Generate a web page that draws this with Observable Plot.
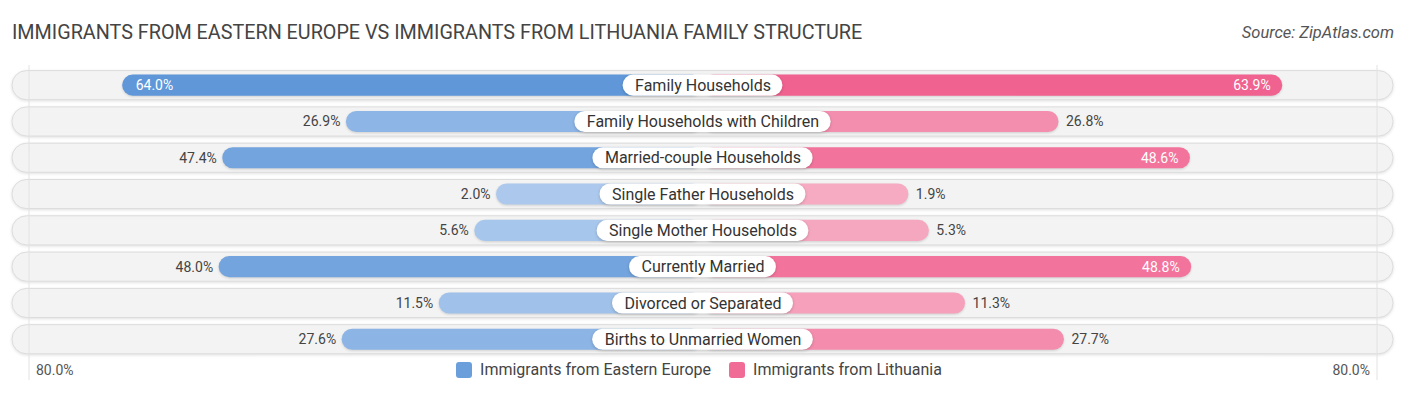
<!DOCTYPE html>
<html>
<head>
<meta charset="utf-8">
<script src="https://cdn.jsdelivr.net/npm/d3@7"></script>
<script src="https://cdn.jsdelivr.net/npm/@observablehq/plot@0.6"></script>
<style>
  html, body { margin: 0; padding: 0; background: #fff; }
  body { width: 1406px; height: 395px; position: relative; overflow: hidden; font-family: Roboto, "Noto Sans", sans-serif; }
  #title { position: absolute; left: 12px; top: 22px; font-size: 19.75px; color: #444; line-height: 22px; white-space: nowrap; }
  #source { position: absolute; right: 12px; top: 24px; font-size: 16.5px; color: #555; font-style: italic; line-height: 18px; }
  #chart { position: absolute; left: 0; top: 60px; }
  #legend { position: absolute; left: -4px; width: 1406px; top: 360px; display: flex; justify-content: center; gap: 18px; font-size: 16px; color: #444; line-height: 20px; }
  .item { display: flex; align-items: center; gap: 8px; }
  .sw { width: 16px; height: 16px; border-radius: 3px; }
</style>
</head>
<body>
<div id="title"></div>
<div id="source"></div>
<div id="chart"></div>
<div id="legend"></div>
<script>
const title = "IMMIGRANTS FROM EASTERN EUROPE VS IMMIGRANTS FROM LITHUANIA FAMILY STRUCTURE";
const source = "Source: ZipAtlas.com";
const categories = [
  "Family Households",
  "Family Households with Children",
  "Married-couple Households",
  "Single Father Households",
  "Single Mother Households",
  "Currently Married",
  "Divorced or Separated",
  "Births to Unmarried Women"
];
const seriesNames = ["Immigrants from Eastern Europe", "Immigrants from Lithuania"];
const easternEurope = [64.0, 26.9, 47.4, 2.0, 5.6, 48.0, 11.5, 27.6];
const lithuania = [63.9, 26.8, 48.6, 1.9, 5.3, 48.8, 11.3, 27.7];
const axisMax = 80;
const axisLabel = "80.0%";

// layout constants
const W = 1406, H = 320;
const K = 6.03;            // px per percentage point
const CENTER = 702.5;      // px of the centre line
const OFFSET = 194.4 / K;  // bars start hidden behind the label
const BG = 690.5 / K;      // half-width of background pill
const GRID = 674 / K;      // half-distance of the two edge rules
const legendColors = ["#6a9fdc", "#f06b96"];
const blueLight = "#aecbee", blueDark = "#5f97d9";
const pinkLight = "#f7adc4", pinkDark = "#f0628f";

document.getElementById("title").textContent = title;
document.getElementById("source").textContent = source;
const legend = document.getElementById("legend");
seriesNames.forEach((n, i) => {
  const it = document.createElement("div");
  it.className = "item";
  const sw = document.createElement("div");
  sw.className = "sw";
  sw.style.background = legendColors[i];
  const t = document.createElement("span");
  t.textContent = n;
  it.appendChild(sw); it.appendChild(t);
  legend.appendChild(it);
});

const maxV = d3.max([...easternEurope, ...lithuania]);
const rows = [];
categories.forEach((c, i) => {
  rows.push({cat: c, side: -1, v: easternEurope[i],
    fill: d3.interpolateRgb(blueLight, blueDark)(easternEurope[i] / maxV)});
  rows.push({cat: c, side: 1, v: lithuania[i],
    fill: d3.interpolateRgb(pinkLight, pinkDark)(lithuania[i] / maxV)});
});
rows.forEach(d => { d.inside = d.v > 0.75 * maxV; d.end = d.side * (OFFSET + d.v); });

const ctx = document.createElement("canvas").getContext("2d");
ctx.font = "16px Roboto";
const labels = categories.map(c => ({cat: c, half: (ctx.measureText(c).width / 2 + 12) / K}));

const fmt = d => d.v.toFixed(1) + "%";
const sel = (side, inside) => rows.filter(d => d.side === side && d.inside === inside);

const plot = Plot.plot({
  width: W, height: H,
  marginTop: 5, marginBottom: 0, marginLeft: 0, marginRight: 0,
  x: {domain: [-CENTER / K, (W - CENTER) / K], range: [0, W], axis: null},
  y: {type: "band", domain: categories, range: [7.0, 297.4], padding: 0, round: false, axis: null},
  color: {type: "identity"},
  style: {fontFamily: "Roboto, 'Noto Sans', sans-serif", background: "transparent"},
  marks: [
    Plot.barX(categories, {y: d => d, x1: -BG, x2: BG, fill: "#f3f3f3", stroke: "#dcdcdc", strokeWidth: 1,
      insetTop: 3.6, insetBottom: 3.6, rx: 14.5, ariaDescription: "bg"}),
    Plot.ruleX([-GRID, GRID], {stroke: "#e2e2e2", strokeWidth: 1}),
    Plot.barX(rows, {y: "cat", x1: 0, x2: "end", fill: "fill",
      insetTop: 7.6, insetBottom: 7.6, rx: 10.5, ariaDescription: "bars"}),
    Plot.barX(labels, {y: "cat", x1: d => -d.half, x2: d => d.half, fill: "white",
      insetTop: 7.6, insetBottom: 7.6, rx: 10.5, ariaDescription: "pills"}),
    Plot.text(labels, {y: "cat", x: 0, text: "cat", fontSize: 16, fill: "#333"}),
    Plot.text(sel(-1, false), {y: "cat", x: "end", text: fmt, fontSize: 14, fill: "#444", dx: -6, textAnchor: "end"}),
    Plot.text(sel(1, false), {y: "cat", x: "end", text: fmt, fontSize: 14, fill: "#444", dx: 7, textAnchor: "start"}),
    Plot.text(sel(-1, true), {y: "cat", x: "end", text: fmt, fontSize: 14, fill: "white", dx: 13, textAnchor: "start"}),
    Plot.text(sel(1, true), {y: "cat", x: "end", text: fmt, fontSize: 14, fill: "white", dx: -12, textAnchor: "end"}),
    Plot.text([-GRID], {x: d => d, frameAnchor: "bottom", dy: -6, dx: 7, textAnchor: "start",
      text: () => axisLabel, fontSize: 14, fill: "#555"}),
    Plot.text([GRID], {x: d => d, frameAnchor: "bottom", dy: -6, dx: -7, textAnchor: "end",
      text: () => axisLabel, fontSize: 14, fill: "#555"})
  ]
});
document.getElementById("chart").appendChild(plot);

d3.select(plot).selectAll('g[aria-description="bg"]').style("filter", "drop-shadow(0 1px 1.5px rgba(0,0,0,0.12))");
d3.select(plot).selectAll('g[aria-description="bars"]').style("filter", "drop-shadow(0 1px 1px rgba(0,0,0,0.15))");
d3.select(plot).selectAll('g[aria-description="pills"]').style("filter", "drop-shadow(0 1px 1.5px rgba(0,0,0,0.2))");
</script>
</body>
</html>
